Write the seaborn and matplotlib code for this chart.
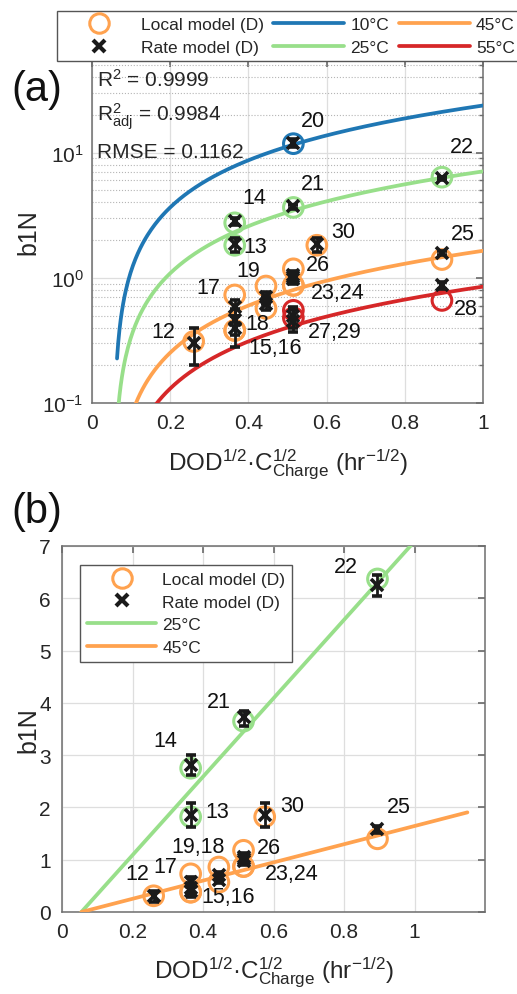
import numpy as np
import pandas as pd
import matplotlib
matplotlib.use("Agg")
import matplotlib.pyplot as plt
import seaborn as sns
from matplotlib.lines import Line2D
from matplotlib.ticker import LogLocator, FixedLocator, FixedFormatter, NullFormatter

# ---------------- data ----------------
test_ids = ['12', '13', '14', '15', '16', '17', '18', '19', '20', '21',
            '22', '23', '24', '25', '26', '27', '28', '29', '30']
x_val = [0.26, 0.365, 0.365, 0.365, 0.365, 0.365, 0.445, 0.445, 0.515, 0.515,
         0.895, 0.515, 0.515, 0.895, 0.515, 0.515, 0.895, 0.515, 0.575]
temps = [45, 25, 25, 45, 45, 45, 45, 45, 10, 25,
         25, 45, 45, 45, 45, 55, 55, 55, 45]
local_b1n = [0.31, 1.82, 2.75, 0.38, 0.38, 0.73, 0.57, 0.86, 11.8, 3.65,
             6.37, 0.87, 0.87, 1.40, 1.18, 0.55, 0.66, 0.48, 1.82]
rate_b1n = [0.30, 1.85, 2.82, 0.40, 0.46, 0.58, 0.62, 0.70, 12.0, 3.72,
            6.25, 0.98, 1.02, 1.58, 1.05, 0.50, 0.87, 0.45, 1.85]
rate_lo = [0.20, 1.62, 2.62, 0.28, 0.35, 0.50, 0.55, 0.62, 11.2, 3.55,
           6.05, 0.90, 0.94, 1.52, 0.97, 0.40, 0.82, 0.37, 1.62]
rate_hi = [0.40, 2.08, 3.00, 0.50, 0.56, 0.66, 0.70, 0.77, 12.8, 3.85,
           6.45, 1.06, 1.10, 1.64, 1.13, 0.58, 0.92, 0.55, 2.08]

# fitted model b1N = slope * (x - x0) per temperature
fit_temps = [10, 25, 45, 55]
fit_slope = [25.2, 7.5, 1.74, 0.90]
fit_x0 = 0.055

fit_text = [r'R$^2$ = 0.9999', r'R$^2_{\mathrm{adj}}$ = 0.9984', 'RMSE = 0.1162']
legend_labels_top = ['Local model (D)', 'Rate model (D)', '10°C', '25°C', '45°C', '55°C']

# label text, anchor test id, offset (points) for panel (a) and (b)
labels_a = [('12', '12', (-22, 7)), ('13', '13', (15, -1)), ('14', '14', (14, 18)),
            ('15,16', '15', (29, -12)), ('17', '17', (-19, 5)), ('18', '18', (-6, -11)),
            ('19', '19', (-13, 11)), ('20', '20', (14, 17)), ('21', '21', (14, 17)),
            ('22', '22', (14, 22)), ('23,24', '23', (32, -5)), ('25', '25', (15, 19)),
            ('26', '26', (18, 3)), ('27,29', '27', (30, -15)), ('28', '28', (17, -6)),
            ('30', '30', (19, 10))]
labels_b = [('12', '12', (-12, 16)), ('13', '13', (19, 4)), ('14', '14', (-18, 20)),
            ('15,16', '15', (27, -3)), ('17', '17', (-18, 5)), ('19,18', '19', (-15, 15)),
            ('21', '21', (-18, 14)), ('22', '22', (-23, 9)), ('23,24', '23', (35, -5)),
            ('25', '25', (15, 23)), ('26', '26', (18, 2)), ('30', '30', (20, 8))]

# ---------------- style ----------------
sns.set_theme(style="white")
plt.rcParams['font.family'] = ['Liberation Sans', 'DejaVu Sans']
plt.rcParams['mathtext.fontset'] = 'custom'
plt.rcParams['mathtext.rm'] = 'Liberation Sans'
plt.rcParams['mathtext.it'] = 'Liberation Sans:italic'
plt.rcParams['mathtext.bf'] = 'Liberation Sans:bold'

pal = {10: '#1f77b4', 25: '#98df8a', 45: '#ffa24f', 55: '#d62728'}
spine_col = '#6e6e6e'
txt_col = '#262626'

df = pd.DataFrame({'id': test_ids, 'x': x_val, 'T': temps, 'local': local_b1n,
                   'rate': rate_b1n, 'lo': rate_lo, 'hi': rate_hi})

fig = plt.figure(figsize=(5.17, 9.95), dpi=100)
ax_a = fig.add_axes([92 / 517, 1 - 404 / 995, 391 / 517, 343 / 995])
ax_b = fig.add_axes([62 / 517, 1 - 913 / 995, 423 / 517, 366 / 995])


def fit_frame(temps_sel, xmin, xmax):
    rows = []
    for T, s in zip(fit_temps, fit_slope):
        if T not in temps_sel:
            continue
        xs = np.linspace(xmin, xmax, 300)
        rows.append(pd.DataFrame({'x': xs, 'b1N': s * (xs - fit_x0), 'T': T}))
    return pd.concat(rows, ignore_index=True)


def draw_points(ax, d):
    sns.scatterplot(data=d, x='x', y='local', hue='T', palette=pal, s=200,
                    linewidth=2.2, legend=False, ax=ax, zorder=4)
    coll = ax.collections[-1]
    fc = coll.get_facecolors()
    coll.set_edgecolors(fc)
    coll.set_facecolors('none')
    ax.errorbar(d['x'], d['rate'], yerr=[d['rate'] - d['lo'], d['hi'] - d['rate']],
                fmt='x', color='k', ms=8, mew=2.6, elinewidth=2.0, capsize=3.8,
                capthick=2.2, zorder=5)


def style_axes(ax):
    for sp in ax.spines.values():
        sp.set_color(spine_col)
        sp.set_linewidth(1.1)
    ax.tick_params(which='both', direction='in', top=True, right=True,
                   colors=spine_col, labelcolor=txt_col, labelsize=15)
    ax.tick_params(which='major', length=5)
    ax.tick_params(which='minor', length=3)
    ax.tick_params(axis='x', pad=7)


xlabel_txt = r'DOD$^{1/2}$·$\mathrm{C}^{1/2}_{\mathrm{Charge}}$ (hr$^{-1/2}$)'

# ---------------- panel (a) ----------------
fa = fit_frame(fit_temps, 0.064, 1.0)
sns.lineplot(data=fa, x='x', y='b1N', hue='T', palette=pal, linewidth=2.7,
             legend=False, ax=ax_a, zorder=3)
draw_points(ax_a, df)
ax_a.set_yscale('log')
ax_a.set_xlim(0, 1)
ax_a.set_ylim(0.1, 55)
ax_a.xaxis.set_major_locator(FixedLocator([0, 0.2, 0.4, 0.6, 0.8, 1]))
ax_a.xaxis.set_major_formatter(FixedFormatter(['0', '0.2', '0.4', '0.6', '0.8', '1']))
ax_a.yaxis.set_major_locator(FixedLocator([0.1, 1, 10]))
ax_a.yaxis.set_major_formatter(FixedFormatter([r'$10^{-1}$', r'$10^{0}$', r'$10^{1}$']))
ax_a.yaxis.set_minor_locator(LogLocator(base=10, subs=np.arange(2, 10)))
ax_a.yaxis.set_minor_formatter(NullFormatter())
ax_a.grid(which='major', color='#dedede', linewidth=0.9, linestyle='-')
ax_a.grid(which='minor', axis='y', color='#b5b5b5', linewidth=0.8, linestyle=':')
ax_a.set_axisbelow(True)
style_axes(ax_a)
ax_a.tick_params(axis='y', pad=6)
ax_a.set_xlabel(xlabel_txt, fontsize=17.5, color=txt_col)
ax_a.xaxis.set_label_coords(0.5, -0.128)
ax_a.set_ylabel('b1N', fontsize=18, color=txt_col)
ax_a.yaxis.set_label_coords(-0.133, 0.5)

for i, t in enumerate(fit_text):
    ax_a.text(0.013, [0.945, 0.837, 0.732][i], t, transform=ax_a.transAxes,
              fontsize=15, ha='left', va='center', color=txt_col, zorder=6)

idx = df.set_index('id')
for lab, anchor, off in labels_a:
    ax_a.annotate(lab, xy=(idx.loc[anchor, 'x'], idx.loc[anchor, 'local']),
                  xytext=off, textcoords='offset points', ha='center', va='center',
                  fontsize=15.5, color='#111111', zorder=7)

# ---------------- panel (b) ----------------
db = df[df['T'].isin([25, 45])]
fb = fit_frame([25, 45], fit_x0, 1.15)
sns.lineplot(data=fb, x='x', y='b1N', hue='T', palette=pal, linewidth=2.7,
             legend=False, ax=ax_b, zorder=3)
draw_points(ax_b, db)
ax_b.set_xlim(0, 1.2)
ax_b.set_ylim(0, 7)
ax_b.xaxis.set_major_locator(FixedLocator([0, 0.2, 0.4, 0.6, 0.8, 1]))
ax_b.xaxis.set_major_formatter(FixedFormatter(['0', '0.2', '0.4', '0.6', '0.8', '1']))
ax_b.yaxis.set_major_locator(FixedLocator(list(range(0, 8))))
ax_b.grid(which='major', color='#dedede', linewidth=0.9, linestyle='-')
ax_b.set_axisbelow(True)
style_axes(ax_b)
ax_b.tick_params(axis='y', pad=8)
ax_b.set_xlabel(xlabel_txt, fontsize=17.5, color=txt_col)
ax_b.xaxis.set_label_coords(0.5, -0.118)
ax_b.set_ylabel('b1N', fontsize=18, color=txt_col)
ax_b.yaxis.set_label_coords(-0.052, 0.5)

for lab, anchor, off in labels_b:
    ax_b.annotate(lab, xy=(idx.loc[anchor, 'x'], idx.loc[anchor, 'local']),
                  xytext=off, textcoords='offset points', ha='center', va='center',
                  fontsize=15.5, color='#111111', zorder=7)

# ---------------- legends ----------------
h_local = Line2D([], [], marker='o', ls='none', mfc='none', mec=pal[45], ms=14, mew=2.2)
h_rate = Line2D([], [], marker='x', ls='none', color='k', ms=9, mew=3)
h_lines = {T: Line2D([], [], color=pal[T], lw=2.7) for T in fit_temps}

leg = fig.legend(handles=[h_local, h_rate, h_lines[10], h_lines[25], h_lines[45], h_lines[55]],
                 labels=legend_labels_top, ncol=3, loc='upper left',
                 bbox_to_anchor=(57 / 517, 1 - 12 / 995), fontsize=12.5,
                 handlelength=4.1, handletextpad=0.35, columnspacing=0.55,
                 labelspacing=0.44, borderpad=0.36, borderaxespad=0,
                 frameon=True, fancybox=False, framealpha=1, edgecolor='#555555')
leg.get_frame().set_linewidth(1.0)
for t in leg.get_texts():
    t.set_color(txt_col)

leg_b = ax_b.legend(handles=[h_local, h_rate, h_lines[25], h_lines[45]],
                    labels=[legend_labels_top[0], legend_labels_top[1],
                            legend_labels_top[3], legend_labels_top[4]],
                    loc='upper left', bbox_to_anchor=(0.0426, 0.948), fontsize=12.5,
                    handlelength=4.0, handletextpad=0.35, labelspacing=0.43,
                    borderpad=0.39, borderaxespad=0, frameon=True, fancybox=False,
                    framealpha=1, edgecolor='#555555')
leg_b.get_frame().set_linewidth(1.0)
for t in leg_b.get_texts():
    t.set_color(txt_col)

fig.text(37 / 517, 1 - 90 / 995, '(a)', fontsize=30, ha='center', va='center', color='#111111')
fig.text(37 / 517, 1 - 512 / 995, '(b)', fontsize=30, ha='center', va='center', color='#111111')

fig.savefig('out.png', dpi=100)
